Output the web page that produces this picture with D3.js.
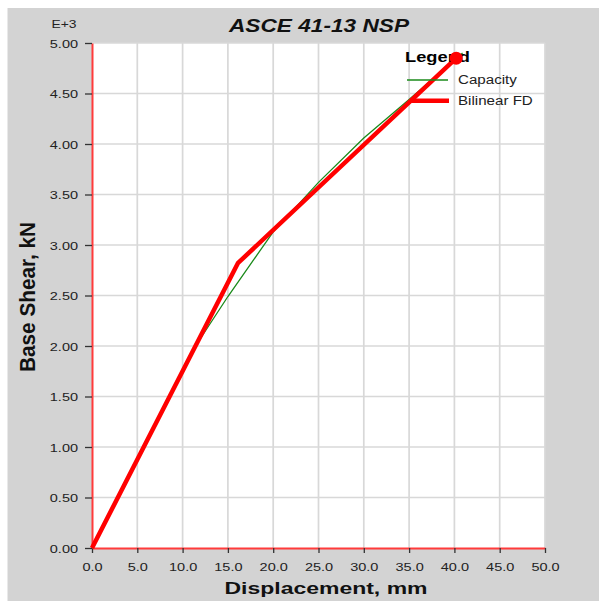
<!DOCTYPE html>
<html>
<head>
<meta charset="utf-8">
<script src="https://cdn.jsdelivr.net/npm/d3@7"></script>
<style>
  body { margin: 0; background: #fff; }
  svg { display: block; font-family: "Liberation Sans", Arial, sans-serif; }
</style>
</head>
<body>
<svg id="chart" width="601" height="601"></svg>
<script>
// capacity curve (displacement mm, base shear E+3 kN)
const capDisp = [0, 11.5, 15, 20, 25, 30, 35, 40.9];
const capShear = [0, 2.01, 2.49, 3.13, 3.62, 4.06, 4.44, 4.9];

// bilinear force-displacement
const biDisp = [0, 16.1, 40.2];
const biShear = [0, 2.82, 4.85];

const xTicks = [0, 5, 10, 15, 20, 25, 30, 35, 40, 45, 50];
const yTicks = [0, 0.5, 1, 1.5, 2, 2.5, 3, 3.5, 4, 4.5, 5];

// the reference text is drawn a bit wide, stretch glyphs to match
const WIDE = 1.26;
function stretch(sel, k) {
    sel.each(function() {
        const len = this.getComputedTextLength();
        d3.select(this)
            .attr('textLength', len * (k || WIDE))
            .attr('lengthAdjust', 'spacingAndGlyphs');
    });
    return sel;
}

const svg = d3.select('#chart');
const margin = { top: 43, right: 56, bottom: 53, left: 92 };
const innerWidth = 601 - margin.left - margin.right;
const innerHeight = 601 - margin.top - margin.bottom;

// grey frame
svg.append('rect')
    .attr('x', 7.5).attr('y', 8)
    .attr('width', 591.5).attr('height', 593)
    .style('fill', '#d3d3d3');

const g = svg.append('g').attr('transform', `translate(${margin.left},${margin.top})`);

const x = d3.scaleLinear().domain([0, 50]).range([0, innerWidth]);
const y = d3.scaleLinear().domain([0, 5]).range([innerHeight, 0]);

g.append('rect')
    .attr('width', innerWidth).attr('height', innerHeight)
    .style('fill', '#fff');

// grid
g.selectAll('line.vgrid')
    .data(xTicks.slice(1))
    .enter().append('line')
    .attr('x1', d => x(d)).attr('x2', d => x(d))
    .attr('y1', 0).attr('y2', innerHeight)
    .style('stroke', '#d8d8d8').style('stroke-width', 1.7);

g.selectAll('line.hgrid')
    .data(yTicks.slice(1))
    .enter().append('line')
    .attr('x1', 0).attr('x2', innerWidth)
    .attr('y1', d => y(d)).attr('y2', d => y(d))
    .style('stroke', '#d8d8d8').style('stroke-width', 1.7);

// axes
const xAxis = g.append('g')
    .attr('transform', `translate(0,${innerHeight})`)
    .call(d3.axisBottom(x).tickValues(xTicks).tickFormat(d3.format('.1f')).tickSize(5).tickSizeOuter(0));
const yAxis = g.append('g')
    .call(d3.axisLeft(y).tickValues(yTicks).tickFormat(d3.format('.2f')).tickSize(7).tickSizeOuter(0));

[xAxis, yAxis].forEach(a => {
    a.attr('font-size', null).attr('font-family', null);
    a.select('.domain').style('stroke', '#ff3b3b').style('stroke-width', 2);
    a.selectAll('.tick line').style('stroke', '#333').style('stroke-width', 1.3);
    a.selectAll('.tick text')
        .style('font-size', '11.5px')
        .style('fill', '#222');
});
xAxis.selectAll('.tick text').attr('y', 23).attr('dy', 0);
yAxis.selectAll('.tick text').attr('x', -14).attr('dy', '0.36em');
stretch(xAxis.selectAll('.tick text'));
stretch(yAxis.selectAll('.tick text'));

// lines
const capData = capDisp.map((d, i) => [d, capShear[i]]);
const biData = biDisp.map((d, i) => [d, biShear[i]]);
const line = d3.line().x(d => x(d[0])).y(d => y(d[1]));

g.append('path')
    .datum(capData)
    .attr('d', line)
    .style('fill', 'none')
    .style('stroke', '#1a8a1a')
    .style('stroke-width', 1.3);

g.append('path')
    .datum(biData)
    .attr('d', line)
    .style('fill', 'none')
    .style('stroke', '#ff0000')
    .style('stroke-width', 4.5)
    .style('stroke-linejoin', 'round');

// legend
const legend = svg.append('g').attr('transform', 'translate(405,0)');
stretch(legend.append('text')
    .attr('x', 0).attr('y', 62)
    .text('Legend')
    .style('font-size', '14.5px')
    .style('font-weight', 'bold')
    .style('fill', '#000'));
legend.append('line')
    .attr('x1', 2).attr('x2', 43).attr('y1', 80).attr('y2', 80)
    .style('stroke', '#1a8a1a').style('stroke-width', 1.3);
stretch(legend.append('text')
    .attr('x', 53).attr('y', 84)
    .text('Capacity')
    .style('font-size', '12px').style('fill', '#222'));
legend.append('line')
    .attr('x1', 6).attr('x2', 44).attr('y1', 100.7).attr('y2', 100.7)
    .style('stroke', '#ff0000').style('stroke-width', 4.5);
stretch(legend.append('text')
    .attr('x', 53).attr('y', 105)
    .text('Bilinear FD')
    .style('font-size', '12px').style('fill', '#222'));

// end marker sits on top of the legend title, as in the reference
svg.append('g')
    .attr('transform', `translate(${margin.left},${margin.top})`)
    .append('circle')
    .attr('cx', x(biDisp[biDisp.length - 1]))
    .attr('cy', y(biShear[biShear.length - 1]))
    .attr('r', 6.5)
    .style('fill', '#ff0000');

// titles
svg.append('text')
    .attr('x', 319).attr('y', 32)
    .attr('text-anchor', 'middle')
    .attr('textLength', 180).attr('lengthAdjust', 'spacingAndGlyphs')
    .text('ASCE 41-13 NSP')
    .style('font-size', '18px')
    .style('font-weight', 'bold')
    .style('font-style', 'italic')
    .style('fill', '#111');

stretch(svg.append('text')
    .attr('x', 64).attr('y', 27.5)
    .attr('text-anchor', 'middle')
    .text('E+3')
    .style('font-size', '11px')
    .style('fill', '#222'));

svg.append('text')
    .attr('transform', 'translate(34.5,297) rotate(-90) scale(1,1.25)')
    .attr('text-anchor', 'middle')
    .attr('textLength', 150).attr('lengthAdjust', 'spacingAndGlyphs')
    .text('Base Shear, kN')
    .style('font-size', '17.5px')
    .style('font-weight', 'bold')
    .style('fill', '#111');

svg.append('text')
    .attr('x', 326).attr('y', 593.5)
    .attr('text-anchor', 'middle')
    .attr('textLength', 203).attr('lengthAdjust', 'spacingAndGlyphs')
    .text('Displacement, mm')
    .style('font-size', '17px')
    .style('font-weight', 'bold')
    .style('fill', '#111');
</script>
</body>
</html>
